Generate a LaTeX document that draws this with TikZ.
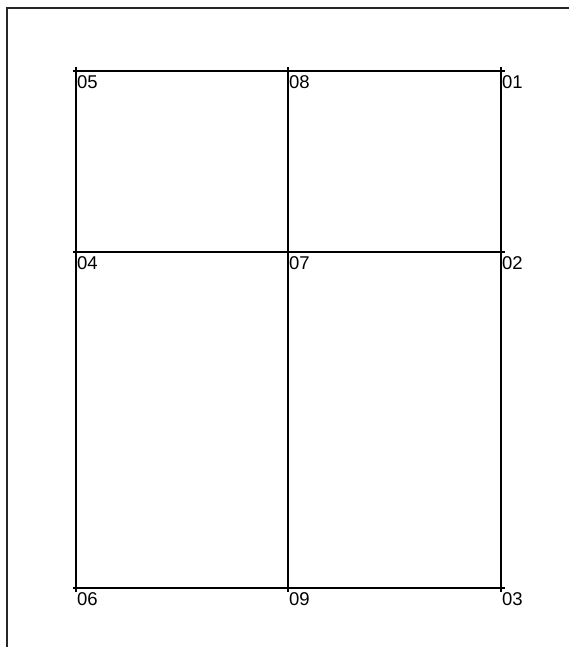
\documentclass[tikz,border=0pt]{standalone}
\usepackage{fontspec}
\setmainfont{Liberation Sans}
\begin{document}
\begin{tikzpicture}[x=1pt,y=-1pt,
  frame/.style={line width=1.6pt, black!85},
  grid/.style={line width=1.4pt},
  lbl/.style={anchor=north west, inner sep=0pt, font=\fontsize{18.5}{18.5}\selectfont, xshift=1pt, yshift=-4pt}]
  \useasboundingbox (0,0) rectangle (569,647);
  \clip (0,0) rectangle (569,647);
  \draw[frame] (7,8) rectangle (600,680);
  \coordinate (p01) at (501,71);
  \coordinate (p02) at (501,252);
  \coordinate (p03) at (501,588);
  \coordinate (p04) at (76,252);
  \coordinate (p05) at (76,71);
  \coordinate (p06) at (76,588);
  \coordinate (p07) at (288,252);
  \coordinate (p08) at (288,71);
  \coordinate (p09) at (288,588);
  \draw[grid] (p05) -- (p01) -- (p03) -- (p06) -- cycle;
  \draw[grid] (p04) -- (p07) -- (p02);
  \draw[grid] (p08) -- (p07) -- (p09);
  \foreach \p/\t in {p01/01,p02/02,p03/03,p04/04,p05/05,p06/06,p07/07,p08/08,p09/09} {
    \draw[grid] ([xshift=-3.5pt]\p) -- ([xshift=3.5pt]\p)
                ([yshift=-3.5pt]\p) -- ([yshift=3.5pt]\p);
    \node[lbl] (l\t) at (\p) {\t};
  }
\end{tikzpicture}
\end{document}
